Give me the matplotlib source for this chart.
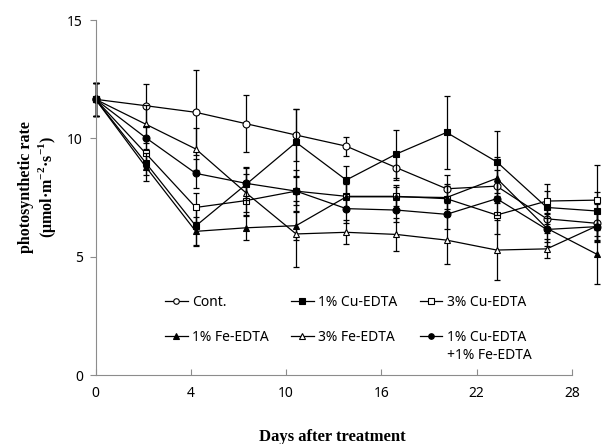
import matplotlib
matplotlib.use("Agg")
import matplotlib.pyplot as plt

# --- data ---
# 11 sampling points, drawn evenly spaced
POINTS = list(range(11))
TICK_LABELS = ["0", "4", "10", "16", "22", "28"]

cont = [11.65, 11.38, 11.10, 10.62, 10.14, 9.67, 8.76, 7.87, 7.98, 6.60, 6.41]
cont_err = [0.7, 0.9, 1.8, 1.2, 1.1, 0.4, 0.5, 0.6, 0.7, 0.6, 0.8]

cu1 = [11.65, 8.97, 6.30, 8.05, 9.83, 8.24, 9.34, 10.25, 9.01, 7.08, 6.93]
cu1_err = [0.7, 0.5, 0.8, 0.7, 1.4, 0.6, 1.0, 1.55, 1.3, 0.7, 0.8]

cu3 = [11.65, 9.37, 7.08, 7.37, 7.77, 7.55, 7.55, 7.45, 6.76, 7.35, 7.39]
cu3_err = [0.7, 0.6, 0.6, 0.6, 0.9, 0.5, 0.4, 0.6, 0.8, 0.7, 1.5]

fe1 = [11.65, 8.80, 6.07, 6.22, 6.31, 7.53, 7.53, 7.50, 8.31, 6.20, 5.10]
fe1_err = [0.7, 0.6, 0.6, 0.5, 0.6, 0.6, 0.5, 0.5, 0.9, 0.6, 1.26]

fe3 = [11.65, 10.60, 9.55, 7.70, 5.96, 6.03, 5.94, 5.70, 5.28, 5.33, 6.30]
fe3_err = [0.7, 0.8, 0.9, 0.8, 1.4, 0.5, 0.7, 1.0, 1.27, 0.4, 0.6]

mix = [11.65, 10.03, 8.52, 8.10, 7.77, 7.03, 6.97, 6.79, 7.45, 6.15, 6.27]
mix_err = [0.7, 0.5, 0.6, 0.7, 0.6, 0.6, 0.5, 0.6, 0.7, 0.7, 0.6]

series = [
    ("Cont.", cont, cont_err, "o", "white"),
    ("1% Cu-EDTA", cu1, cu1_err, "s", "black"),
    ("3% Cu-EDTA", cu3, cu3_err, "s", "white"),
    ("1% Fe-EDTA", fe1, fe1_err, "^", "black"),
    ("3% Fe-EDTA", fe3, fe3_err, "^", "white"),
    ("1% Cu-EDTA", mix, mix_err, "o", "black"),
]

plt.rcParams["mathtext.fontset"] = "custom"
plt.rcParams["mathtext.rm"] = "Liberation Serif:bold"
plt.rcParams["mathtext.bf"] = "Liberation Serif:bold"

fig = plt.figure(figsize=(6.06, 4.44), dpi=100)
ax = fig.add_axes([0.1576, 0.1554, 0.8358, 0.7995])

handles = []
for label, y, err, mk, face in series:
    ax.errorbar(POINTS, y, yerr=err, fmt="none", ecolor="black",
                elinewidth=0.9, capsize=2.2, capthick=0.9, clip_on=False)
    h, = ax.plot(POINTS, y, color="black", lw=0.9, marker=mk, ms=5,
                 mfc=face, mec="black", mew=0.8, label=label, clip_on=False)
    handles.append(h)

ax.set_xlim(0, 10.1)
ax.set_ylim(0, 15)
ax.set_yticks([0, 5, 10, 15])
ax.set_xticks([k * 1.9 for k in range(6)])
ax.set_xticklabels(TICK_LABELS)

for s in ["top", "right"]:
    ax.spines[s].set_visible(False)
for s in ["left", "bottom"]:
    ax.spines[s].set_color("#8c8c8c")
    ax.spines[s].set_linewidth(0.8)
ax.spines["bottom"].set_bounds(0, 9.5)

ax.tick_params(axis="y", direction="out", length=4, color="#8c8c8c", pad=5,
               labelsize=10)
ax.tick_params(axis="x", direction="in", length=4, color="#8c8c8c", pad=8,
               labelsize=10)
for t in ax.get_xticklabels() + ax.get_yticklabels():
    t.set_fontfamily("Noto Sans")

ax.set_ylabel("photosynthetic rate\n(μmol·m$^{-2}$·s$^{-1}$)",
              fontfamily="Liberation Serif", fontweight="bold", fontsize=11.5,
              linespacing=1.1)
ax.yaxis.set_label_coords(-0.074, 0.53)
ax.set_xlabel("Days after treatment", fontfamily="Liberation Serif",
              fontweight="bold", fontsize=12)
ax.xaxis.set_label_coords(0.467, -0.152)

# legend: 2 rows x 3 columns (column-wise fill order)
order = [0, 3, 1, 4, 2, 5]
leg = ax.legend([handles[i] for i in order], [series[i][0] for i in order],
                ncol=3, frameon=False, loc="upper left",
                bbox_to_anchor=(0.137, 0.225), borderpad=0, borderaxespad=0,
                handlelength=1.65, handletextpad=0.3, columnspacing=1.6,
                labelspacing=1.4, prop={"family": "Noto Sans",
                                        "weight": "bold", "size": 10})
for lh in leg.get_lines():
    lh.set_markersize(4)
ax.text(0.693, 0.056, "+1% Fe-EDTA", transform=ax.transAxes,
        fontfamily="Noto Sans", fontweight="bold", fontsize=10,
        va="center", ha="left")

fig.savefig("out.png", dpi=100)
